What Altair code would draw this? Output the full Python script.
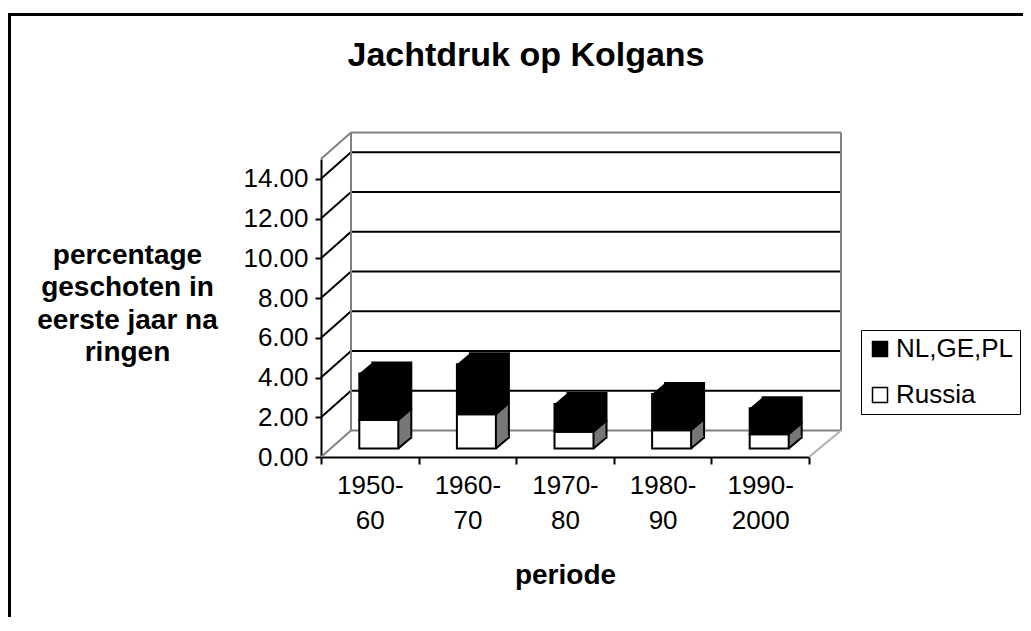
import altair as alt
import pandas as pd

# ---------------- data ----------------
chart_title = "Jachtdruk op Kolgans"
periods = ["1950-60", "1960-70", "1970-80", "1980-90", "1990-2000"]
russia = [1.43, 1.73, 0.84, 0.92, 0.72]
nl_ge_pl = [2.35, 2.51, 1.40, 1.82, 1.30]
series_names = ["NL,GE,PL", "Russia"]
y_ticks = [0, 2, 4, 6, 8, 10, 12, 14]
y_top = 15

rows = []
for p, r, n in zip(periods, russia, nl_ge_pl):
    rows.append(dict(period=p, series="Russia", start=0.0, end=r))
    rows.append(dict(period=p, series="NL,GE,PL", start=r, end=r + n))
bars = pd.DataFrame(rows)
grid_inner = pd.DataFrame({"v": y_ticks[1:]})
grid_edges = pd.DataFrame({"v": [0, y_top]})
zero = pd.DataFrame({"v": [0]})

# ---------------- geometry / style ----------------
FONT = "Liberation Sans"
W, H = 488, 298
DX, DX2, DY = 30, 32, -26.5          # back wall offset
BAR_W, BX, BY = 39, 9, -8.5           # bar front face
BDX, BDY = 13, -11                    # bar depth
GREY = "#808080"
SIDE = "#777777"

x_scale = alt.Scale(domain=periods, paddingInner=0, paddingOuter=0)
y_scale = alt.Scale(domain=[0, y_top], nice=False, zero=True)

x_axis = alt.Axis(
    title="periode", labelExpr="[slice(datum.label,0,5), slice(datum.label,5)]",
    labelAngle=0, labelFontSize=26, labelLineHeight=35, labelPadding=8,
    labelFont=FONT, labelColor="black", tickBand="extent", tickSize=7,
    tickColor="black", tickWidth=2, domainColor="black", domainWidth=2,
    titleFont=FONT, titleFontSize=28, titleFontWeight="bold", titleColor="black",
    titleY=126, titleBaseline="alphabetic", grid=False,
)
y_axis = alt.Axis(
    title=["percentage", "geschoten in", "eerste jaar na", "ringen"],
    values=y_ticks, format=".2f", labelFontSize=26, labelFont=FONT,
    labelColor="black", labelPadding=7, tickSize=6, tickColor="black",
    tickWidth=2, domainColor="black", domainWidth=2, grid=False,
    titleAngle=0, titleAlign="center", titleX=-194, titleY=104,
    titleBaseline="alphabetic", titleLineHeight=32.5, titleFont=FONT,
    titleFontSize=28, titleFontWeight="bold", titleColor="black",
)

X = alt.X("period:N", sort=periods, scale=x_scale, axis=x_axis)


def Y(field):
    return alt.Y(field, scale=y_scale, axis=y_axis)


# ---------------- frame decorations ----------------
border = alt.Chart(zero).mark_rect(fillOpacity=0, stroke="black", strokeWidth=3).encode(
    x=alt.value(-311.5), x2=alt.value(760), y=alt.value(-144.5), y2=alt.value(520)
)
title = alt.Chart(zero).mark_text(
    text=chart_title, font=FONT, fontSize=34, fontWeight="bold", color="black",
    align="center", baseline="alphabetic",
).encode(x=alt.value(205), y=alt.value(-93))
back_grid = alt.Chart(grid_inner).mark_rule(
    color="black", strokeWidth=2, yOffset=DY, y2Offset=DY
).encode(y=Y("v:Q"), y2="v:Q", x=alt.value(DX), x2=alt.value(W + DX2))
back_edges = alt.Chart(grid_edges).mark_rule(
    color=GREY, strokeWidth=2, yOffset=DY, y2Offset=DY
).encode(y=Y("v:Q"), y2="v:Q", x=alt.value(DX), x2=alt.value(W + DX2))
side_inner = alt.Chart(grid_inner).mark_rule(
    color="black", strokeWidth=2, y2Offset=DY
).encode(y=Y("v:Q"), y2="v:Q", x=alt.value(0), x2=alt.value(DX))
side_edges = alt.Chart(grid_edges).mark_rule(
    color=GREY, strokeWidth=2, y2Offset=DY
).encode(y=Y("v:Q"), y2="v:Q", x=alt.value(0), x2=alt.value(DX))
wall_left = alt.Chart(zero).mark_rule(
    color=GREY, strokeWidth=2, yOffset=DY, y2Offset=DY
).encode(y=Y("v:Q"), y2=alt.datum(y_top), x=alt.value(DX))
wall_right = alt.Chart(zero).mark_rule(
    color=GREY, strokeWidth=2, yOffset=DY, y2Offset=DY
).encode(y=Y("v:Q"), y2=alt.datum(y_top), x=alt.value(W + DX2))
floor_right = alt.Chart(zero).mark_rule(
    color="#b0b0b0", strokeWidth=2, y2Offset=DY
).encode(y=Y("v:Q"), y2="v:Q", x=alt.value(W), x2=alt.value(W + DX2))

# ---------------- 3D bars ----------------
base = alt.Chart(bars)
back_r = base.transform_filter(alt.datum.series == "Russia").mark_bar(
    size=BAR_W, color=SIDE, stroke="black", strokeWidth=2,
    xOffset=BX + BDX, x2Offset=BX + BDX, yOffset=BY + BDY, y2Offset=BY + BDY,
).encode(x=X, y=Y("start:Q"), y2="end:Q")
back_n = base.transform_filter(alt.datum.series == "NL,GE,PL").mark_bar(
    size=BAR_W, color="black", stroke="black", strokeWidth=2,
    xOffset=BX + BDX, x2Offset=BX + BDX, yOffset=BY + BDY, y2Offset=BY + BDY,
).encode(x=X, y=Y("start:Q"), y2="end:Q")

L = BX - BAR_W / 2
R = BX + BAR_W / 2
top_path = f"M{L},{BY}L{R},{BY}L{R + BDX},{BY + BDY}L{L + BDX},{BY + BDY}Z"
corner_path = (f"M{R},{BY}L{R + BDX},{BY + BDY}L{R + BDX},{BY + BDY - 1.5}"
               f"L{R},{BY + BDY - 1.5}Z")
edge_path = f"M{R},{BY}L{R + BDX},{BY + BDY}"

top_face = base.transform_filter(alt.datum.series == "NL,GE,PL").mark_point(
    shape=top_path, size=4, filled=True, color="black", opacity=1, strokeWidth=0
).encode(x=X, y=Y("end:Q"))
corner_r = base.transform_filter(alt.datum.series == "Russia").mark_point(
    shape=corner_path, size=4, filled=True, color=SIDE, opacity=1, strokeWidth=0
).encode(x=X, y=Y("start:Q"))
corner_n = base.transform_filter(alt.datum.series == "NL,GE,PL").mark_point(
    shape=corner_path, size=4, filled=True, color="black", opacity=1, strokeWidth=0
).encode(x=X, y=Y("start:Q"))
edges = base.mark_point(
    shape=edge_path, size=4, filled=False, color="black", opacity=1, strokeWidth=2
).encode(x=X, y=Y("start:Q"))

front = base.mark_bar(
    size=BAR_W, stroke="black", strokeWidth=2,
    xOffset=BX, x2Offset=BX, yOffset=BY, y2Offset=BY,
).encode(
    x=X, y=Y("start:Q"), y2="end:Q",
    color=alt.Color(
        "series:N",
        scale=alt.Scale(domain=series_names, range=["black", "white"]),
        legend=alt.Legend(
            orient="none", legendX=540, legendY=171, title=None,
            symbolType="square", symbolSize=225, symbolStrokeColor="black",
            symbolStrokeWidth=1.5, labelFontSize=26,
            labelFont=FONT, labelColor="black", strokeColor="black", padding=6,
            rowPadding=20, labelOffset=3,
        ),
    ),
)

chart = alt.layer(
    border, title, back_grid, back_edges, side_inner, side_edges, wall_left,
    wall_right, floor_right, back_r, back_n, top_face, corner_r, corner_n,
    edges, front,
).properties(
    width=W, height=H,
    autosize=alt.AutoSizeParams(type="none"),
    padding={"left": 313, "top": 151, "right": 214, "bottom": 160},
).configure_view(stroke=None)

chart.save("out.html", embed_options={"renderer": "svg", "actions": False})
